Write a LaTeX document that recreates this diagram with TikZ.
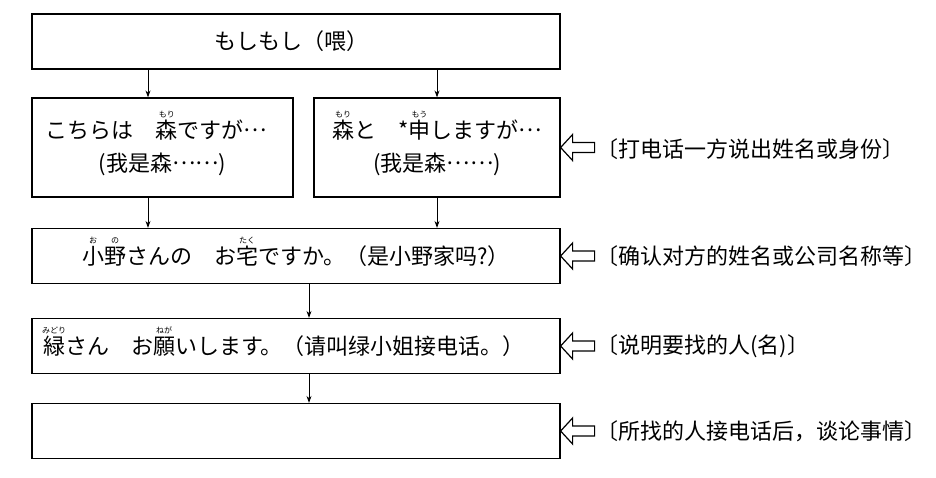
\documentclass[tikz,border=0pt]{standalone}
\usepackage{fontspec}
\setmainfont{Noto Sans CJK SC}
\newfontfamily\jpfont{Noto Sans CJK JP}
\newfontfamily\zhfont{Noto Sans CJK SC}
\usetikzlibrary{arrows.meta,positioning}
% furigana over one kanji
\newcommand{\rb}[2]{\leavevmode\hbox{\ooalign{#1\cr\hidewidth\raisebox{21pt}[0pt][0pt]{\fontsize{8}{8}\selectfont #2}\hidewidth\cr}}}
\newcommand{\el}{\raisebox{6.5pt}{…}}

\begin{document}
\begin{tikzpicture}[x=1pt, y=-1pt,
    box/.style={draw, line width=1.2pt, inner sep=0pt, minimum height=55pt,
      align=center, font=\jpfont\fontsize{22}{33}\selectfont},
    arr/.style={line width=1pt, -{Stealth[length=7pt,width=5pt]}},
    note/.style={anchor=west, inner sep=0pt, font=\zhfont\fontsize{22}{26}\selectfont},
    hollow/.style={draw, line width=1.2pt, line join=miter}]
  \useasboundingbox (0,0) rectangle (936,477);

  % boxes
  \node[box, minimum width=528pt] (hello) at (296,41.5) {もしもし（{\zhfont 喂}）\kern10pt};
  \node[box, minimum width=261pt, minimum height=99pt] (selfa) at (162.5,147.5)
    {こちらは　\rb{森}{もり}ですが\el\kern12pt\\{\zhfont(我是森\el\el)}};
  \node[box, minimum width=246pt, minimum height=99pt] (selfb) at (437,147.5)
    {\rb{森}{もり}と　*\rb{申}{もう}しますが\el\\{\zhfont(我是森\el\el)}};
  \node[box, minimum width=528pt] (check) at (296,256)
    {\rb{小}{お}\rb{野}{の}さんの　お\rb{宅}{たく}ですか。{\zhfont（是小野家吗?）}};
  \node[box, minimum width=528pt] (ask) at (296,346)
    {\rb{緑}{みどり}さん　お\rb{願}{ねが}いします。{\zhfont（请叫绿小姐接电话。）}\kern24pt};
  \node[box, minimum width=528pt] (talk) at (296,431) {};

  % connectors
  \draw[arr] ([xshift=-14.5pt]selfa.north |- hello.south) -- ([xshift=-14.5pt]selfa.north);
  \draw[arr] (selfb.north |- hello.south) -- (selfb.north);
  \draw[arr] ([xshift=-14.5pt]selfa.south) -- ([xshift=-14.5pt]selfa.south |- check.north);
  \draw[arr] (selfb.south) -- (selfb.south |- check.north);
  \draw[arr] ([xshift=13pt]check.south) -- ([xshift=13pt]ask.north);
  \draw[arr] ([xshift=13pt]ask.south) -- ([xshift=13pt]talk.north);

  % notes on the right
  \node[note] (n1) at (596,149) {〔打电话一方说出姓名或身份〕};
  \node[note] (n2) at (596,256) {〔确认对方的姓名或公司名称等〕};
  \node[note] (n3) at (596,346) {〔说明要找的人(名)〕};
  \node[note] (n4) at (596,431) {〔所找的人接电话后，谈论事情〕};

  % hollow arrows
  \foreach \b in {selfb, check, ask, talk}{
    \draw[hollow] (\b.east) -- ++(12,-13) -- ++(0,8) -- ++(22,0) -- ++(0,10)
      -- ++(-22,0) -- ++(0,8) -- cycle;
  }
\end{tikzpicture}
\end{document}
